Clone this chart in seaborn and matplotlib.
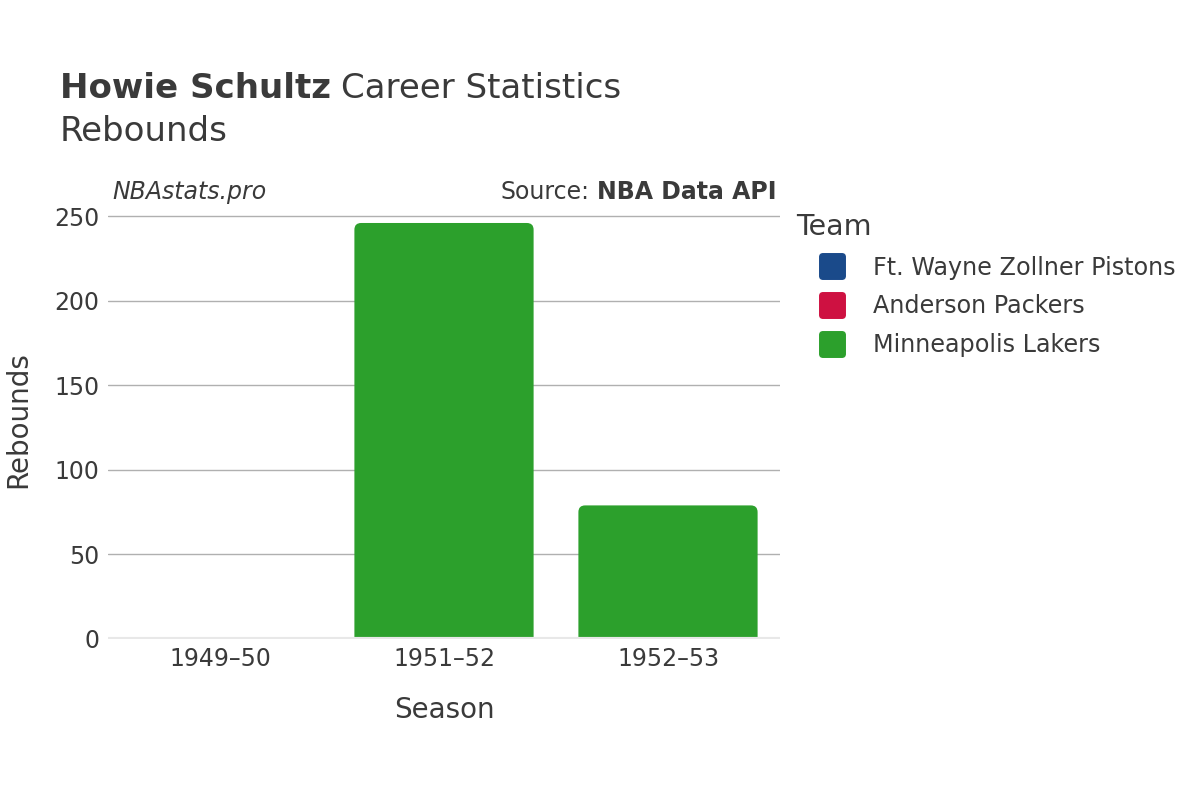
import numpy as np
import pandas as pd
import matplotlib
matplotlib.use("Agg")
import matplotlib.pyplot as plt
import seaborn as sns
from matplotlib.lines import Line2D
from matplotlib.markers import MarkerStyle
from matplotlib.patches import FancyBboxPatch

seasons = ["1949–50", "1951–52", "1952–53"]
teams = ["Ft. Wayne Zollner Pistons", "Anderson Packers", "Minneapolis Lakers"]
team_colors = ["#1a4a8a", "#ce1141", "#2ca02c"]

row_season = ["1949–50", "1949–50", "1951–52", "1952–53"]
row_team = ["Ft. Wayne Zollner Pistons", "Anderson Packers", "Minneapolis Lakers", "Minneapolis Lakers"]
row_rebounds = [0, 0, 246, 79]

df = pd.DataFrame({"Season": row_season, "Team": row_team, "Rebounds": row_rebounds})

sns.set_theme(style="white")
plt.rcParams['font.family'] = ['DejaVu Sans']
txt = "#3a3a3a"

fig = plt.figure(figsize=(12, 8), dpi=100)
ax = fig.add_axes([0.09, 0.20125, 0.56, 0.5475])

sns.barplot(data=df, x="Season", y="Rebounds", hue="Team", order=seasons,
            hue_order=teams, palette=team_colors, dodge=False, width=0.8,
            saturation=1, ax=ax, legend=False)

ymax = 259
# rounded tops like the original (bottom corners pushed below the axis and clipped)
aspect = (ymax / 3) * (0.56 * 12) / (0.5475 * 8)
for p in list(ax.patches):
    x, w, h = p.get_x(), p.get_width(), p.get_height()
    fc = p.get_facecolor()
    p.remove()
    if h <= 0:
        continue
    ax.add_patch(FancyBboxPatch((x, -10), w, h + 10, boxstyle="round,pad=0,rounding_size=0.03",
                                mutation_aspect=aspect, facecolor=fc, edgecolor="none", zorder=2))

ax.set_ylim(0, ymax)
ax.set_xlim(-0.5, 2.5)
ax.set_yticks([0, 50, 100, 150, 200, 250])
ax.yaxis.grid(True, color="#b0b0b0", linewidth=1)
ax.set_axisbelow(True)
ax.axhline(0, color="#e8e8e8", linewidth=3, zorder=3)
for s in ax.spines.values():
    s.set_visible(False)
ax.tick_params(axis="both", length=0, labelsize=17, colors=txt, pad=6)
ax.set_xlabel("Season", fontsize=20, color=txt, labelpad=18)
ax.set_ylabel("Rebounds", fontsize=20, color=txt)
ax.yaxis.set_label_coords(-0.113, 0.5)

fig.canvas.draw()
r = fig.canvas.get_renderer()

t1 = fig.text(0.05, 0.89, "Howie Schultz", fontsize=24.5, fontweight="bold", color=txt, va="center")
bb = t1.get_window_extent(r)
fig.text(bb.x1 / 1200 + 0.008, 0.89, "Career Statistics", fontsize=24.5, color=txt, va="center")
fig.text(0.05, 0.836, "Rebounds", fontsize=24.5, color=txt, va="center")

fig.text(0.094, 0.76, "NBAstats.pro", fontsize=17, style="italic", color=txt, va="center")
t2 = fig.text(0.647, 0.76, "NBA Data API", fontsize=17, fontweight="bold", color=txt, va="center", ha="right")
bb2 = t2.get_window_extent(r)
fig.text(bb2.x0 / 1200 - 0.006, 0.76, "Source:", fontsize=17, color=txt, va="center", ha="right")

handles = [Line2D([0], [0], marker=MarkerStyle("s", joinstyle="round"), linestyle="",
                  markersize=14, markeredgewidth=5,
                  markerfacecolor=c, markeredgecolor=c) for c in team_colors]
leg = fig.legend(handles, teams, title="Team", loc="upper left",
                 bbox_to_anchor=(0.6635, 0.734), frameon=False, fontsize=17.2,
                 title_fontsize=20.5, labelspacing=0.62, handlelength=3.0,
                 handletextpad=0.2, borderaxespad=0, borderpad=0)
leg._legend_box.align = "left"
for t in leg.get_texts():
    t.set_color(txt)
leg.get_title().set_color(txt)

fig.savefig("out.png", dpi=100)
